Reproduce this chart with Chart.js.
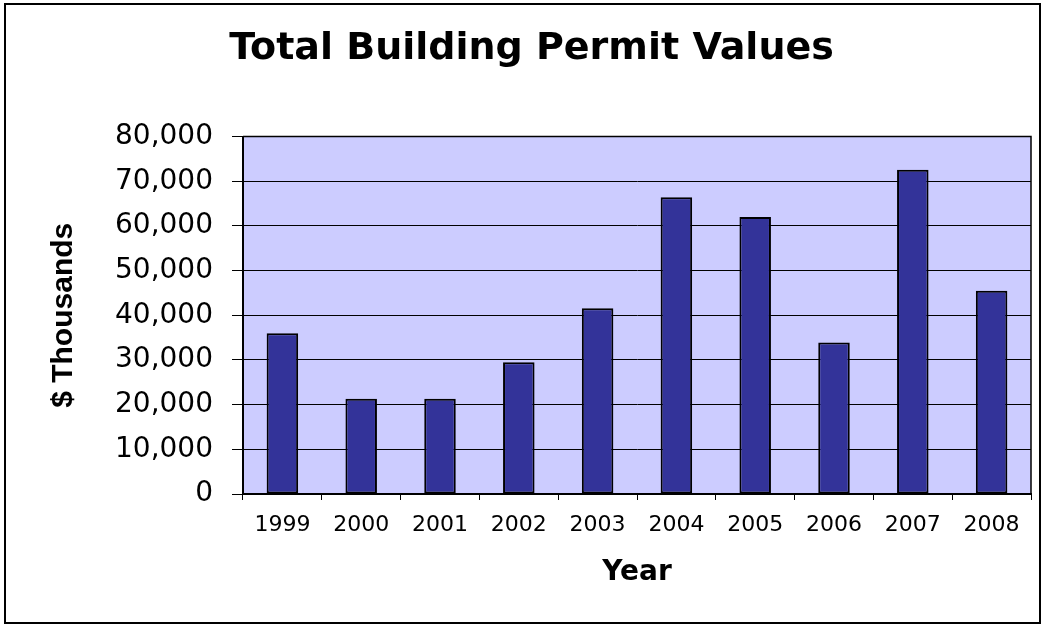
<!DOCTYPE html>
<html>
<head>
<meta charset="utf-8">
<title>Total Building Permit Values</title>
<script src="https://cdn.jsdelivr.net/npm/chart.js@4/dist/chart.umd.min.js"></script>
<style>
  body { margin: 0; background: #fff; }
  canvas { display: block; }
</style>
</head>
<body>
<canvas id="bar-chart" width="1046" height="625"></canvas>
<script>
var years = ["1999", "2000", "2001", "2002", "2003", "2004", "2005", "2006", "2007", "2008"];
var permitValues = [36000, 21300, 21300, 29500, 41600, 66400, 62000, 33900, 72600, 45500];
var yTicks = [0, 10000, 20000, 30000, 40000, 50000, 60000, 70000, 80000];

// plot background, frame and outer border
var framePlugin = {
	id: 'frame',
	beforeDraw: function(chart) {
		var ctx = chart.ctx, a = chart.chartArea;
		ctx.save();
		ctx.fillStyle = '#CCCCFF';
		ctx.fillRect(a.left, a.top, a.right - a.left, a.bottom - a.top);
		ctx.restore();
	},
	afterDraw: function(chart) {
		var ctx = chart.ctx, a = chart.chartArea;
		ctx.save();
		ctx.strokeStyle = '#000';
		ctx.lineWidth = 1.5;
		ctx.beginPath();
		ctx.moveTo(a.left, a.top);
		ctx.lineTo(a.right, a.top);
		ctx.lineTo(a.right, a.bottom);
		ctx.stroke();
		ctx.lineWidth = 2;
		ctx.strokeRect(5, 4, 1035, 619);
		ctx.restore();
	}
};

new Chart(document.getElementById("bar-chart"), {
	type: 'bar',
	data: {
		labels: years,
		datasets: [{
			label: "$ Thousands",
			data: permitValues,
			backgroundColor: '#333399',
			borderColor: '#000',
			borderWidth: 2,
			borderSkipped: false,
			barPercentage: 0.4,
			categoryPercentage: 1
		}]
	},
	options: {
		responsive: false,
		animation: false,
		layout: { padding: { left: 32, right: 15, top: 0, bottom: 0 } },
		plugins: {
			legend: { display: false },
			tooltip: { enabled: false },
			title: {
				display: true,
				text: 'Total Building Permit Values',
				color: '#000',
				font: { family: 'DejaVu Sans', size: 38, weight: 'bold' },
				padding: { top: 26, bottom: 65 }
			}
		},
		scales: {
			x: {
				grid: { offset: true, drawOnChartArea: false, color: '#000', tickLength: 6 },
				border: { color: '#000', width: 2 },
				ticks: { color: '#000', font: { family: 'DejaVu Sans', size: 22 }, padding: 12, maxRotation: 0 },
				title: {
					display: true,
					text: 'Year',
					color: '#000',
					font: { family: 'DejaVu Sans', size: 28, weight: 'bold' },
					padding: { top: 0, bottom: 35 }
				},
				afterFit: function(scale) { scale.height = 131; }
			},
			y: {
				min: 0,
				max: 80000,
				afterBuildTicks: function(scale) {
					scale.ticks = yTicks.map(function(v) { return { value: v }; });
				},
				grid: { color: '#000', lineWidth: 1, tickLength: 11 },
				border: { color: '#000', width: 2 },
				ticks: {
					color: '#000',
					font: { family: 'DejaVu Sans', size: 28 },
					padding: 19,
					callback: function(v) { return v.toLocaleString('en-US'); }
				},
				title: {
					display: true,
					text: '$ Thousands',
					color: '#000',
					font: { family: 'Liberation Sans', size: 30, weight: 'bold' },
					padding: { top: 14, bottom: 0 }
				},
				afterFit: function(scale) { scale.width = 211; }
			}
		}
	},
	plugins: [framePlugin]
});
</script>
</body>
</html>
